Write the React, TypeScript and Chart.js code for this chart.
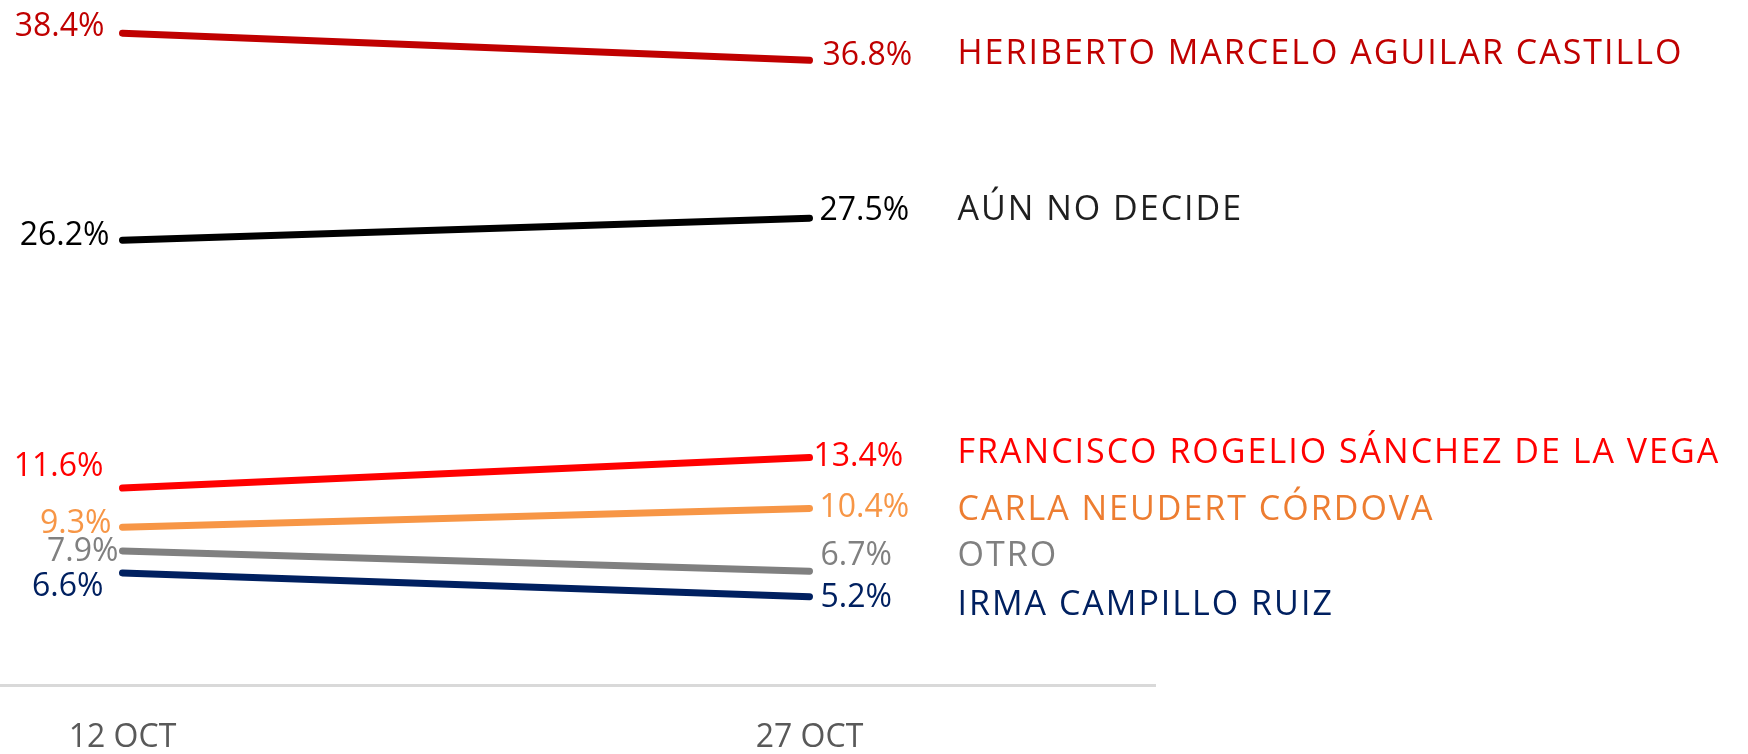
import React, { useEffect, useRef } from 'react';
import { Chart, registerables } from 'chart.js';

Chart.register(...registerables);

// ---------- data ----------
const DATES = ['12 OCT', '27 OCT'];
const NAMES = [
  'HERIBERTO MARCELO AGUILAR CASTILLO',
  'AÚN NO DECIDE',
  'FRANCISCO ROGELIO SÁNCHEZ DE LA VEGA',
  'CARLA NEUDERT CÓRDOVA',
  'OTRO',
  'IRMA CAMPILLO RUIZ',
];
const AGUILAR = [38.4, 36.8];
const NO_DECIDE = [26.2, 27.5];
const SANCHEZ = [11.6, 13.4];
const NEUDERT = [9.3, 10.4];
const OTRO = [7.9, 6.7];
const CAMPILLO = [6.6, 5.2];
const SERIES = [AGUILAR, NO_DECIDE, SANCHEZ, NEUDERT, OTRO, CAMPILLO];

// ---------- style ----------
const LINE_COLORS = ['#C00000', '#000000', '#FF0000', '#F79646', '#808080', '#002060'];
const VALUE_COLORS = ['#C00000', '#000000', '#FF0000', '#F79646', '#808080', '#002060'];
const NAME_COLORS = ['#C00000', '#1F1F1F', '#FF0000', '#ED7D31', '#808080', '#002060'];

// label nudges relative to the line end points (px)
const START_GAP = [18, 13, 19, 11, 4, 19];
const START_DY = [-9, -7, -24, -6, -1, 12];
const END_GAP = [13, 10, 4, 10, 11, 11];
const END_DY = [-7, -10, -3, -3, -18, -1];
const NAME_OFFSET = 148;
const NAME_DY = [-8, -10, -7, -1, -17, 6];

const FONT = '"Open Sans", sans-serif';
const CAP = 0.714;
const VALUE_SIZE = 32;
const NAME_SIZE = 34;
const TICK_SIZE = 32;

const fmt = (v: number) => v.toFixed(1) + '%';

const labelPlugin = {
  id: 'endLabels',
  afterDatasetsDraw(chart: any) {
    const ctx = chart.ctx as CanvasRenderingContext2D;
    ctx.save();
    chart.data.datasets.forEach((_ds: any, i: number) => {
      const meta = chart.getDatasetMeta(i);
      const p0 = meta.data[0];
      const p1 = meta.data[1];
      const vals = SERIES[i];
      ctx.textBaseline = 'alphabetic';
      ctx.font = `${VALUE_SIZE}px ${FONT}`;
      ctx.fillStyle = VALUE_COLORS[i];
      const vc = (VALUE_SIZE * CAP) / 2;
      ctx.textAlign = 'right';
      ctx.fillText(fmt(vals[0]), p0.x - START_GAP[i], p0.y + START_DY[i] + vc);
      ctx.textAlign = 'left';
      ctx.fillText(fmt(vals[1]), p1.x + END_GAP[i], p1.y + END_DY[i] + vc);
      ctx.font = `${NAME_SIZE}px ${FONT}`;
      (ctx as any).letterSpacing = '2px';
      ctx.fillStyle = NAME_COLORS[i];
      ctx.fillText(NAMES[i], p1.x + NAME_OFFSET, p1.y + NAME_DY[i] + (NAME_SIZE * CAP) / 2);
      (ctx as any).letterSpacing = '0px';
    });
    ctx.restore();
  },
};

export default function App() {
  const ref = useRef<HTMLCanvasElement | null>(null);

  useEffect(() => {
    if (!ref.current) return;
    const chart = new Chart(ref.current, {
      type: 'line',
      data: {
        datasets: SERIES.map((s, i) => ({
          label: NAMES[i],
          data: s.map((v, j) => ({ x: j, y: v })),
          borderColor: LINE_COLORS[i],
          backgroundColor: LINE_COLORS[i],
          borderWidth: 7,
          borderCapStyle: 'round',
          pointRadius: 0,
          pointHoverRadius: 0,
          tension: 0,
          fill: false,
          clip: false,
        })),
      },
      options: {
        animation: false,
        responsive: false,
        devicePixelRatio: 1,
        layout: { padding: { left: 0, right: 593, top: 6, bottom: 0 } },
        plugins: { legend: { display: false }, tooltip: { enabled: false } },
        scales: {
          x: {
            type: 'linear',
            min: -0.1783,
            max: 1.5029,
            grid: { display: false, drawTicks: false },
            border: { display: true, color: '#D9D9D9', width: 3 },
            afterBuildTicks: (scale: any) => {
              scale.ticks = DATES.map((_, i) => ({ value: i }));
            },
            afterFit: (scale: any) => {
              scale.height = 69;
            },
            ticks: {
              padding: 37,
              maxRotation: 0,
              autoSkip: false,
              color: '#595959',
              font: { family: FONT, size: TICK_SIZE, lineHeight: 1 },
              callback: (_v: any, idx: number) => DATES[idx] ?? '',
            },
          },
          y: {
            display: false,
            min: 0,
            max: 40,
          },
        },
      },
      plugins: [labelPlugin],
    } as any);
    return () => chart.destroy();
  }, []);

  return (
    <div style={{ position: 'fixed', left: 0, top: 0, width: 1748, height: 754, background: '#ffffff' }}>
      <canvas ref={ref} width={1748} height={754} style={{ display: 'block' }} />
    </div>
  );
}
